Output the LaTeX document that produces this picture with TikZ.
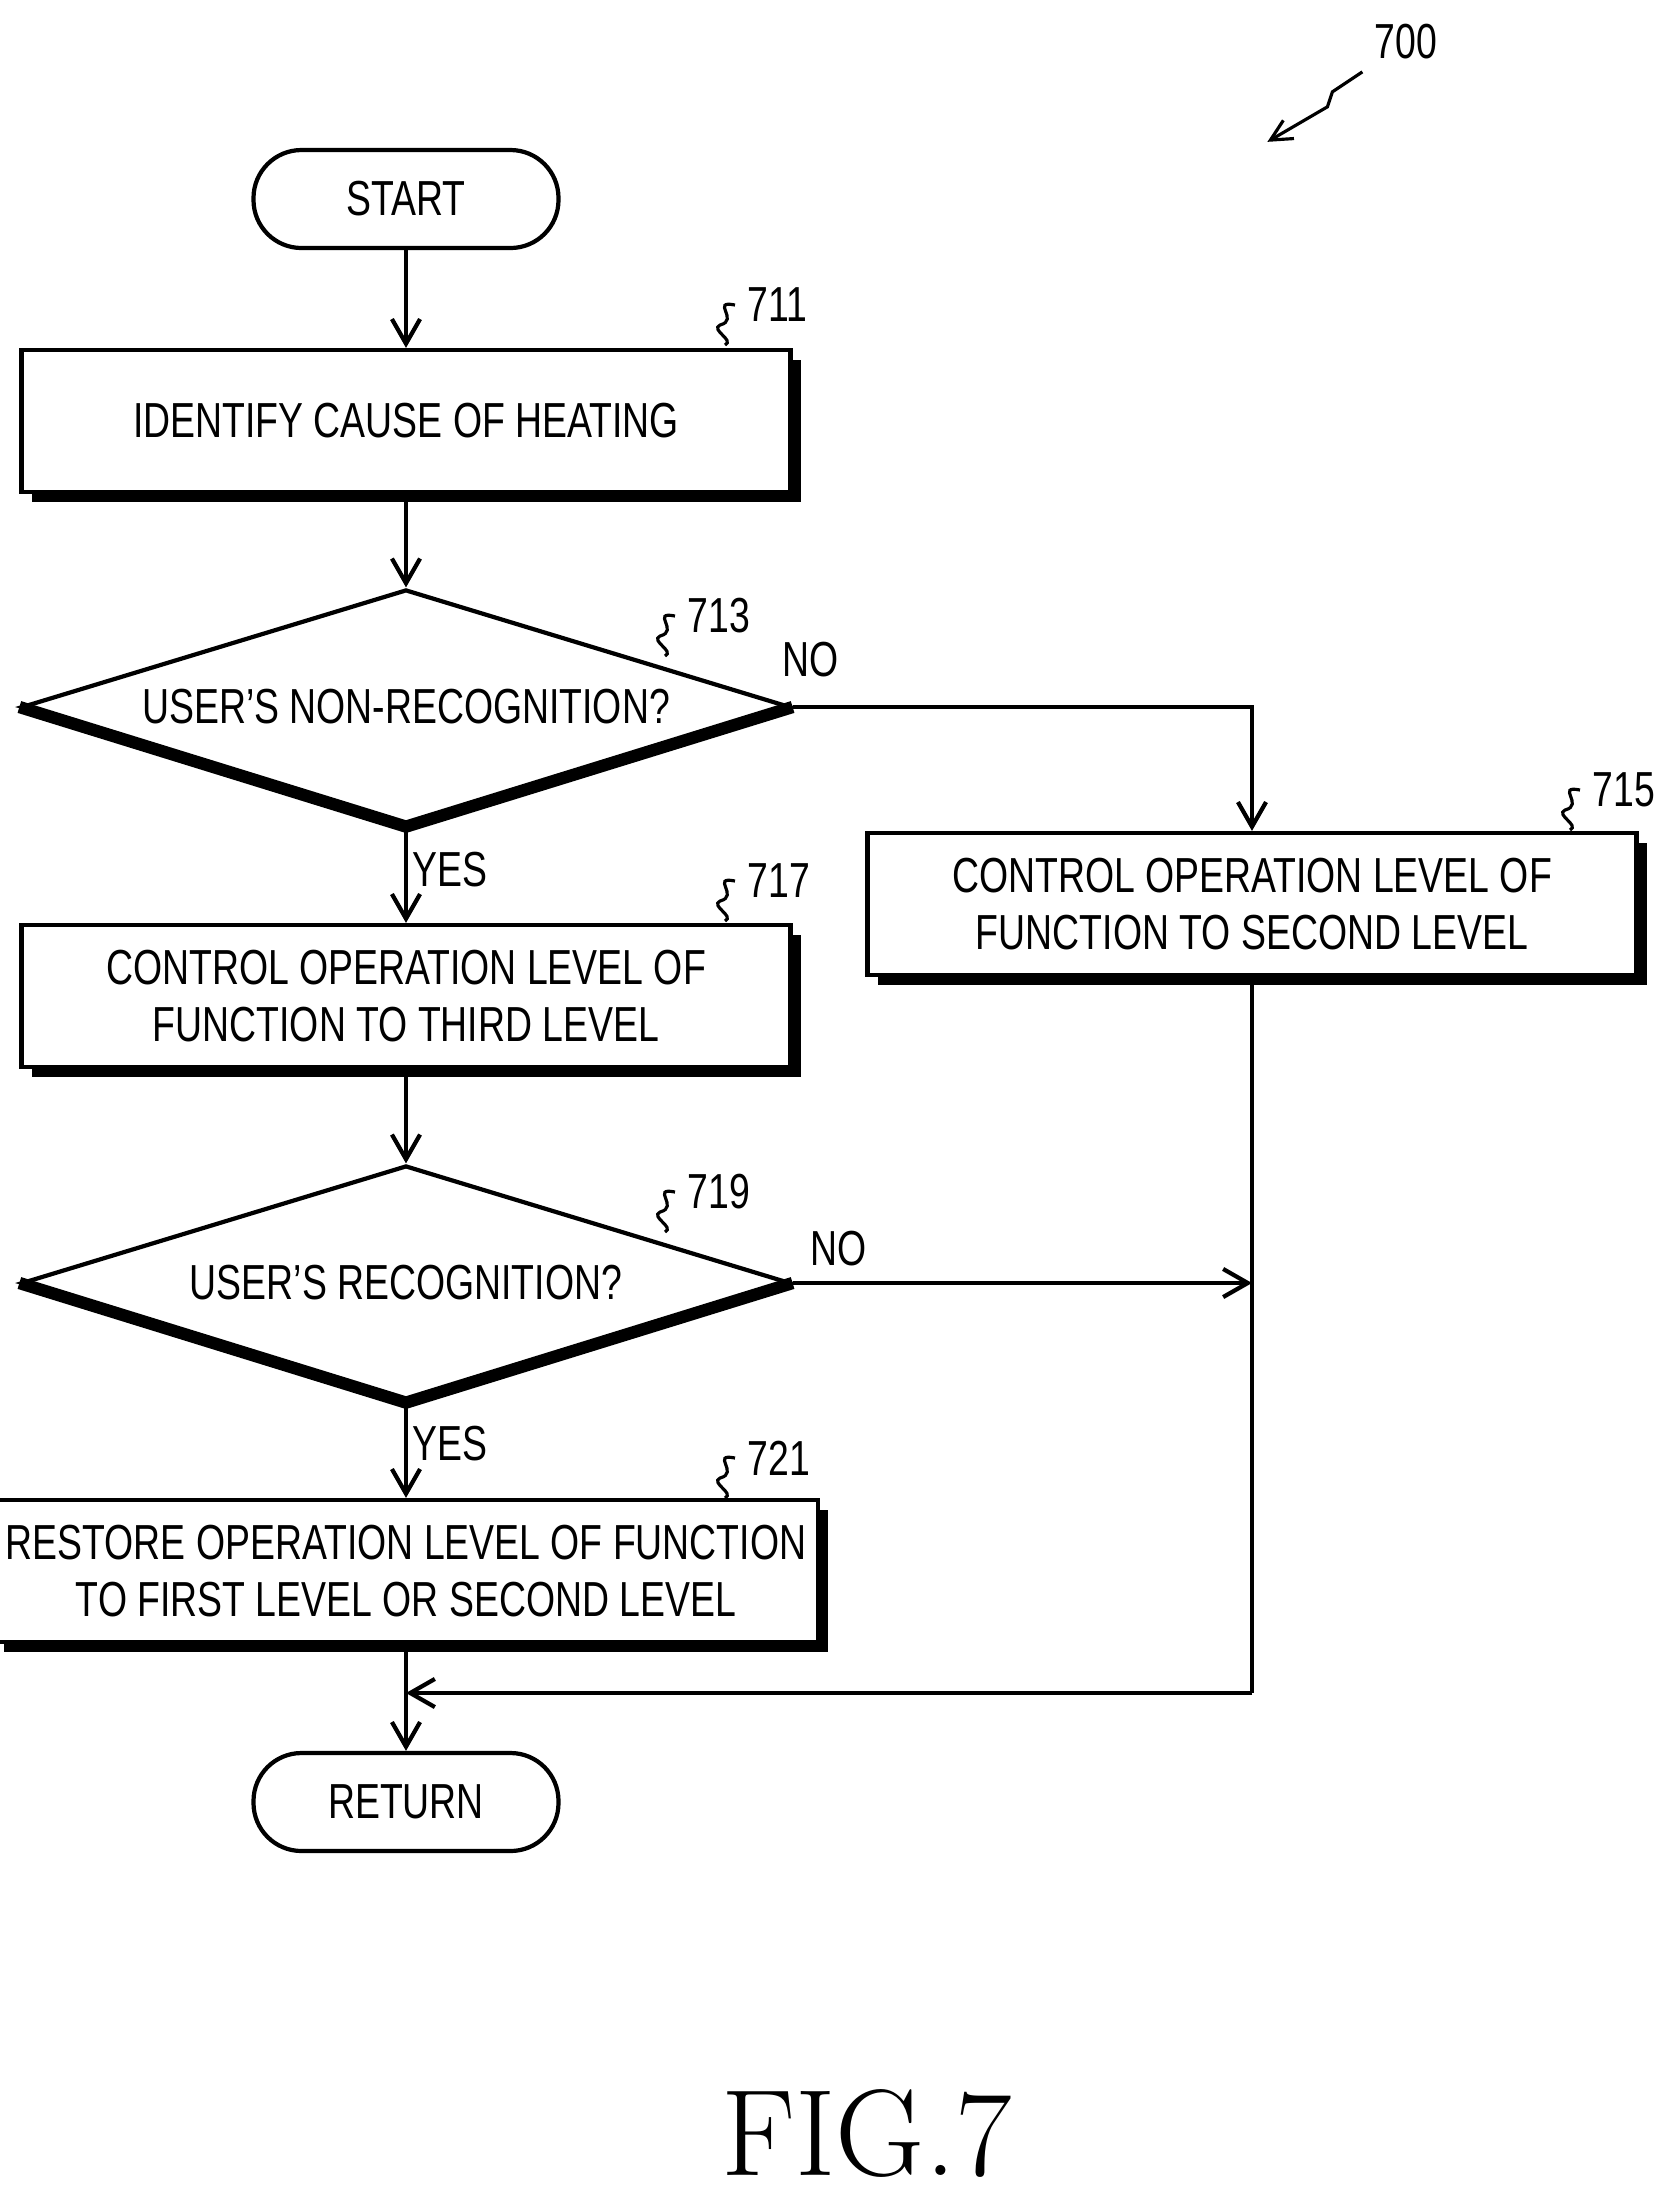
\documentclass[tikz,border=0pt]{standalone}
\usepackage{fontspec}
\setmainfont{Liberation Sans}[FakeStretch=0.76]
\newfontfamily\figfont{Latin Modern Roman}
\usetikzlibrary{positioning}
\usetikzlibrary{shapes.geometric}
\usetikzlibrary{shadows}
\usetikzlibrary{arrows.meta}
\tikzset{
  box/.style={draw, line width=1.2pt, fill=white, minimum width=7.69cm, minimum height=1.42cm,
    align=center, font=\fontsize{14}{16}\selectfont,
    drop shadow={shadow xshift=0.1cm, shadow yshift=-0.1cm, fill=black, opacity=1}},
  term/.style={draw, line width=1.2pt, rounded corners=0.48cm, minimum width=3.05cm, minimum height=0.98cm,
    font=\fontsize{14}{16}\selectfont},
  dec/.style={draw, diamond, line width=1.2pt, minimum width=7.69cm, minimum height=2.35cm,
    inner sep=0pt},
  lab/.style={font=\fontsize{14}{16}\selectfont},
  flow/.style={line width=1.2pt, -{Straight Barb[length=7pt,width=8pt]}},
  ref/.style={line width=0.9pt}
}
\begin{document}
\begin{tikzpicture}
\useasboundingbox (0,0) rectangle (16.79,-22.07);

\node[term] (start) at (4.06,-1.99) {START};
\node[box] (s711) at (4.06,-4.21) {IDENTIFY CAUSE OF HEATING};
\node[dec] (s713) at (4.06,-7.07) {};
\node[lab] at (s713) {USER'S NON-RECOGNITION?};
\node[box] (s715) at (12.52,-9.04) {CONTROL OPERATION LEVEL OF\\FUNCTION TO SECOND LEVEL};
\node[box] (s717) at (4.06,-9.96) {CONTROL OPERATION LEVEL OF\\FUNCTION TO THIRD LEVEL};
\node[dec] (s719) at (4.06,-12.83) {};
\node[lab] at (s719) {USER'S RECOGNITION?};
\node[box] (s721) at (4.06,-15.71) {RESTORE OPERATION LEVEL OF FUNCTION\\TO FIRST LEVEL OR SECOND LEVEL};
\node[term] (ret) at (4.06,-18.02) {RETURN};

% thick lower edges of the decisions
\draw[line width=3.5pt] (s713.west) -- (s713.south) -- (s713.east);
\draw[line width=3.5pt] (s719.west) -- (s719.south) -- (s719.east);

\coordinate (join) at (12.52,-12.83);
\coordinate (merge) at (12.52,-16.93);

\draw[flow] (start) -- (s711);
\draw[flow] (s711) -- (s713);
\draw[flow] (s713.east) -| (s715.north);
\draw[flow] (s713.south) -- (s717.north);
\draw[flow] (s717) -- (s719);
\draw[flow] (s719.east) -- (join);
\draw[line width=1.2pt] (s715.south) -- (merge);
\draw[flow] (merge) -- (4.06,-16.93);
\draw[flow] (s719.south) -- (s721.north);
\draw[flow] (s721) -- (ret);

\node[lab] at (8.11,-6.6) {NO};
\node[lab] at (4.5,-8.7) {YES};
\node[lab] at (8.39,-12.49) {NO};
\node[lab] at (4.5,-14.44) {YES};

% reference numerals
\foreach \n/\x/\y in {711/7.35/-3.05, 713/6.75/-6.16, 715/15.8/-7.9, 717/7.35/-8.81, 719/6.75/-11.92, 721/7.35/-14.58}{
  \node[lab, anchor=west] (r\n) at (\x,\y) {\n};
  \draw[ref] (r\n.west) .. controls +(-0.25,0.05) and +(0.2,0.05) .. +(-0.15,-0.2)
    .. controls +(-0.1,-0.05) and +(0.1,0.05) .. +(-0.1,-0.4);
}
\node[lab] (r700) at (14.06,-0.42) {700};
\draw[ref, -{Straight Barb[length=6pt,width=6pt]}] (r700.south west) -- ++(-0.3,-0.2) -- ++(-0.05,-0.15) -- ++(-0.6,-0.35);

\node[font=\figfont\fontsize{35}{40}\selectfont] (fig) at (8.67,-21.33) {FIG.7};
\end{tikzpicture}
\end{document}
